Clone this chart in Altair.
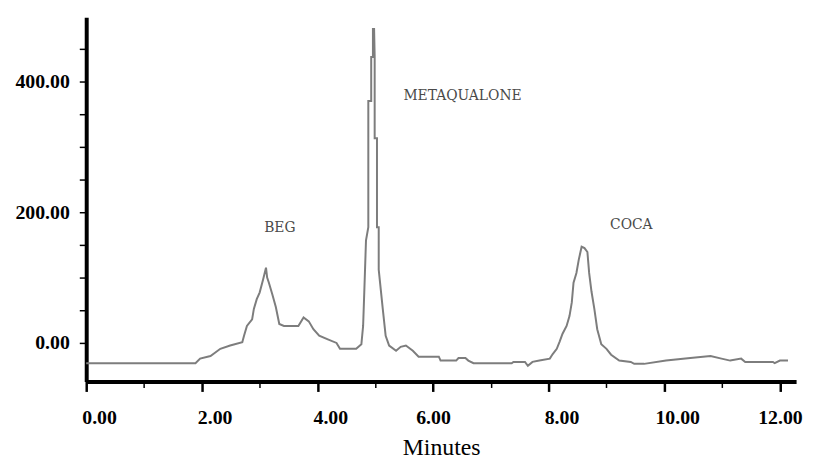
import altair as alt
import pandas as pd

# Chromatogram trace (minutes, detector signal)
time_min = [0.0, 1.89, 1.97, 2.15, 2.32, 2.49, 2.70, 2.73, 2.78, 2.87, 2.90, 2.95, 3.00, 3.06, 3.11,
            3.13, 3.16, 3.22, 3.28, 3.34, 3.42, 3.67, 3.76, 3.85, 3.93, 4.03, 4.19, 4.33, 4.39, 4.67,
            4.72, 4.76, 4.79, 4.81, 4.84, 4.88, 4.88, 4.93, 4.93, 4.96, 4.96, 4.98, 4.99, 4.99, 5.03,
            5.03, 5.06, 5.06,
            5.13, 5.18, 5.24, 5.36, 5.44, 5.53, 5.65, 5.75, 6.10, 6.13, 6.40, 6.44, 6.56, 6.61, 6.70,
            7.36, 7.39, 7.59, 7.64, 7.72, 7.84, 8.02, 8.07, 8.14, 8.19, 8.24, 8.31, 8.36, 8.40, 8.43,
            8.48, 8.52, 8.57, 8.62, 8.67, 8.70, 8.74, 8.79, 8.84, 8.91, 9.00, 9.08, 9.22, 9.42, 9.48,
            9.65, 10.03, 10.45, 10.80, 10.99, 11.14, 11.33, 11.40, 11.88, 11.91, 12.00, 12.14]
signal = [-31, -31, -24, -20, -9, -4, 1, 11, 26, 36, 52, 67, 77, 97, 115,
          100, 92, 74, 55, 29, 26, 26, 39, 33, 21, 11, 5, 0, -9, -9,
          -5, -2, 26, 77, 157, 177, 370, 370, 437, 437, 480, 480, 437, 313, 313,
          177, 177, 112,
          52, 11, -4, -12, -6, -4, -12, -21, -21, -27, -27, -23, -23, -27, -31,
          -31, -29, -29, -35, -29, -27, -24, -17, -9, 2, 14, 26, 41, 62, 92,
          107, 127, 147, 145, 139, 107, 79, 52, 21, -2, -9, -18, -27, -29, -32,
          -32, -27, -23, -20, -24, -27, -24, -29, -29, -31, -27, -27]

peak_names = ["BEG", "METAQUALONE", "COCA"]
peak_x = [3.35, 6.51, 9.43]
peak_y = [176, 377, 180]

x_tick_values = [i * 0.5 for i in range(25)]
y_tick_values = [i * 50 for i in range(10)]

trace = pd.DataFrame({"t": time_min, "s": signal, "order": list(range(len(time_min)))})
names = pd.DataFrame({"t": peak_x, "s": peak_y, "name": peak_names})

x_scale = alt.Scale(domain=[0, 12.28], nice=False, zero=False)
y_scale = alt.Scale(domain=[-59, 498], nice=False, zero=False)

x_axis = alt.Axis(
    title="Minutes",
    values=x_tick_values,
    labelExpr="datum.value % 2 === 0 ? format(datum.value, '.2f') : ''",
    labelFont="Liberation Serif", labelFontWeight="bold", labelFontSize=20, labelColor="black",
    labelOffset={"condition": {"test": "datum.value === 6 || datum.value === 12", "value": 0}, "value": 13},
    labelFlush=False,
    labelPadding=16,
    tickSize={"condition": {"test": "datum.value % 2 === 0", "value": 10}, "value": 6},
    tickWidth={"condition": {"test": "datum.value % 2 === 0", "value": 2.5}, "value": 1.5},
    tickColor="black", domainColor="black", domainWidth=4,
    grid=False,
    titleFont="Liberation Serif", titleFontSize=24, titleFontWeight="normal", titleColor="black",
    titlePadding=9,
)
y_axis = alt.Axis(
    title=None,
    values=y_tick_values,
    labelExpr="datum.value % 200 === 0 ? format(datum.value, '.2f') : ''",
    labelFont="Liberation Serif", labelFontWeight="bold", labelFontSize=20, labelColor="black",
    labelPadding=10, labelFlush=False,
    tickSize=7, tickWidth=1.5, tickColor="black",
    domainColor="black", domainWidth=4,
    grid=False,
)

line = alt.Chart(trace).mark_line(color="#7d7d7d", strokeWidth=2).encode(
    x=alt.X("t:Q", scale=x_scale, axis=x_axis),
    y=alt.Y("s:Q", scale=y_scale, axis=y_axis),
    order="order:Q",
)
text = alt.Chart(names).mark_text(font="DejaVu Serif", fontSize=14, color="#4a4a4a").encode(
    x=alt.X("t:Q", scale=x_scale),
    y=alt.Y("s:Q", scale=y_scale),
    text="name:N",
)

chart = (line + text).properties(
    width=717, height=368,
    background="white",
    autosize=alt.AutoSizeParams(type="none"),
    padding={"left": 79, "top": 7, "right": 9, "bottom": 78},
).configure_view(stroke=None)

chart.save("out.html", embed_options={"renderer": "svg", "actions": False})
